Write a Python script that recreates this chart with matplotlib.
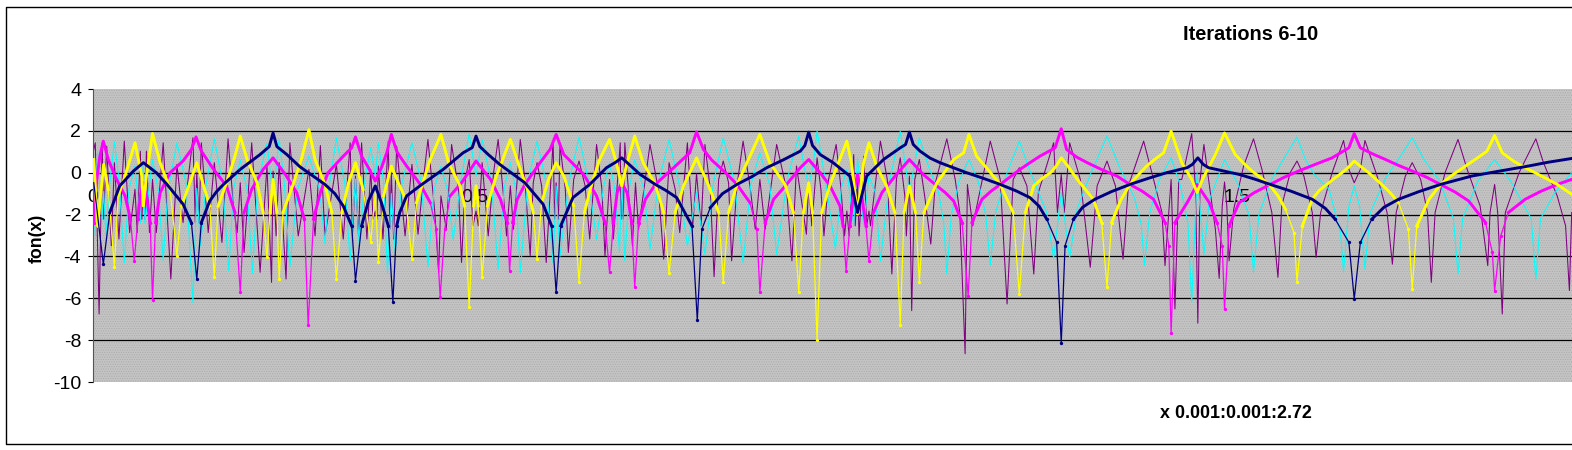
import numpy as np
import matplotlib
matplotlib.use("Agg")
import matplotlib.pyplot as plt
from matplotlib.lines import Line2D

title_text = "Iterations 6-10"
x_label_text = "x 0.001:0.001:2.72"
y_label_text = "fon(x)"
x_ticks = [0, 0.5, 1, 1.5]
x_tick_labels = ["0", "0.5", "1", "1.5"]
y_ticks = [-10, -8, -6, -4, -2, 0, 2, 4]

navy_points = [(.001,-.48),(.0135,-4.37),(.022,-1.9),(.035,-.63),(.053,.08),(.066,.48),(.083,0),(.097,-.56),(.118,-1.5),(.129,-2.4),(.136,-5.08),(.142,-2.38),(.153,-1.35),(.171,-.56),(.193,.16),(.219,.87),(.236,1.9),(.254,.87),(.271,.29),(.304,-.56),(.328,-1.59),(.339,-2.54),(.344,-5.16),(.352,-2.54),(.361,-1.35),(.370,-.63),(.378,-1.43),(.387,-2.54),(.393,-6.19),(.398,-2.54),
(.402,-1.9),(.411,-1.11),(.431,-.56),(.459,.16),(.485,.95),(.502,1.75),(.518,.87),(.533,.40),(.566,-.48),(.590,-1.51),(.601,-2.54),(.607,-5.71),(.613,-2.54),(.629,-1.19),(.651,-.56),(.673,.24),(.693,.71),(.717,-.08),(.737,-.56),(.765,-1.19),(.785,-2.54),(.792,-7.06),(.798,-2.7),(.809,-1.67),(.844,-.56),(.883,.24),(.927,1.03),
(.938,1.94),(.953,.87),(.970,.48),(.992,-.16),(1.002,-1.9),(1.014,-.16),(1.036,.63),(1.058,1.19),(1.070,1.94),(1.084,1.03),(1.110,.48),(1.145,0),(1.189,-.56),(1.228,-1.19),(1.250,-2.22),(1.263,-3.33),(1.269,-8.14),(1.274,-3.49),(1.285,-2.22),(1.313,-1.27),(1.359,-.56),(1.407,0),(1.434,.24),(1.448,.71),
(1.462,.24),(1.502,-.08),(1.543,-.56),(1.598,-1.27),(1.628,-2.22),(1.646,-3.33),(1.653,-6.03),(1.661,-3.33),(1.676,-2.22),(1.711,-1.27),(1.766,-.56),(1.807,-.16),(1.877,.29),(1.938,.68),
(.231,1.25),(.241,1.25),(.497,1.2),(.507,1.25),(.933,1.3),(.943,1.3),(1.065,1.35),(1.075,1.35),(.685,.5),(.701,.45),(1.441,.4),(1.455,.4),(1.167,-.27),(1.210,-.87),(1.240,-1.6),(1.297,-1.65),(1.335,-.9),(1.383,-.27),(1.522,-.3),(1.570,-.88),(1.615,-1.7),(1.692,-1.65),(1.738,-.9),(1.842,.07),(1.907,.5),(.905,.62),(.864,-.18),(1.097,.7),(.825,-1.0),(.751,-.85),(.288,-.15),(.317,-1.0),(.162,-.9)]

magenta_points = [(.001,-2.38),(.005,-.32),(.009,.79),(.0135,1.51),(.020,.63),(.031,-.32),(.042,-1.11),(.049,-2.2),(.054,-4.2),(.059,-2.2),(.062,-1.11),(.066,-.48),(.070,-1.11),(.075,-2.38),(.078,-6.1),(.082,-2.38),(.088,-.95),(.101,0),(.118,.56),(.129,1.11),(.135,1.71),(.142,1.03),(.158,.16),(.175,-.63),(.186,-1.9),(.193,-5.71),(.198,-1.9),(.208,-.79),(.223,.16),(.236,.71),(.252,-.08),(.267,-.95),(.277,-2.22),(.282,-7.3),(.289,-2.22),(.298,-.95),(.308,0),(.328,.79),(.339,1.19),(.344,1.71),(.352,.79),(.361,.24),(.370,-.40),(.378,.24),(.385,.95),(.391,1.83),(.398,1.03),
(.402,.79),(.411,.32),(.429,-.56),(.442,-1.43),(.450,-2.7),(.455,-5.95),(.461,-2.7),(.468,-1.11),(.483,-.48),(.502,.56),(.521,-.32),(.534,-1.27),(.543,-2.38),(.546,-4.68),(.550,-2.38),(.556,-1.27),(.566,-.56),(.586,.48),(.599,1.11),(.607,1.83),(.617,.87),(.643,-.08),(.660,-1.11),(.671,-2.38),(.677,-4.76),(.682,-2.38),(.687,-.95),(.693,-.48),(.700,-.95),(.706,-2.38),(.710,-5.48),(.715,-2.38),(.724,-1.27),(.737,-.56),(.761,.24),(.782,.95),(.791,1.95),(.800,1.11),(.822,.24),(.844,-.56),(.861,-1.43),(.870,-2.7),(.874,-5.71),(.881,-2.38),(.892,-1.27),(.909,-.56),(.927,.24),
(.938,.63),(.953,0),(.966,-.63),(.979,-1.59),(.983,-2.54),(.987,-4.68),(.992,-2.54),(.997,-.95),(1.002,-.08),(1.007,-.95),(1.013,-2.54),(1.017,-4.2),(1.023,-1.9),(1.034,-.95),(1.053,-.08),(1.070,.63),(1.088,-.08),(1.106,-.63),(1.128,-1.35),(1.139,-2.38),(1.147,-5.87),(1.152,-2.38),(1.165,-1.27),(1.189,-.56),(1.215,.16),(1.241,.79),(1.261,1.19),(1.269,2.1),(1.276,1.11),(1.303,.48),(1.342,-.16),(1.359,-.56),(1.390,-1.27),(1.405,-2.38),(1.410,-3.49),(1.413,-7.67),(1.418,-2.38),(1.434,-1.43),(1.447,-.56),
(1.463,-1.43),(1.473,-2.38),(1.480,-3.49),(1.483,-6.51),(1.489,-2.54),(1.502,-1.43),(1.543,-.56),(1.580,.08),(1.624,.71),(1.646,1.19),(1.653,1.87),(1.661,1.19),(1.694,.63),(1.729,.08),(1.766,-.56),(1.803,-1.35),(1.825,-2.38),(1.834,-3.81),(1.837,-5.63),(1.845,-3.02),(1.855,-1.9),(1.877,-1.27),(1.919,-.56),(1.938,-.32),
(1.202,-.2),(1.228,.48),(1.289,.75),(1.322,.15),(1.375,-.88),(1.522,-.95),(1.561,-.22),(1.602,.4),(1.677,.9),(1.711,.35),(1.748,-.22),(1.785,-.92),(1.898,-.88),(.811,.6),(.833,-.15),(1.117,-.95),(1.177,-.88)]

yellow_points = [(.001,.63),(.006,-2.54),(.014,.4),(.020,-.8),(.028,-4.5),(.033,-1.11),(.042,-.16),(.055,1.43),(.064,-.16),(.066,-1.59),(.070,-.16),(.078,1.87),(.088,.48),(.101,-.8),(.110,-3.97),(.116,-1.59),(.127,-.48),(.136,.48),(.145,-.63),(.153,-1.59),(.159,-5.0),(.164,-1.59),(.175,-.48),(.186,.79),(.193,1.75),(.202,.63),(.215,-.48),(.223,-1.9),(.228,-4.05),(.232,-1.9),(.236,-.32),(.241,-1.9),(.244,-5.08),(.249,-1.9),(.263,-.48),(.273,.63),(.283,2.06),(.291,.63),(.304,-.56),(.313,-1.9),(.319,-5.08),(.326,-1.9),(.335,-.48),(.344,.48),(.354,-.8),(.364,-3.3),(.370,-.95),(.374,-4.25),(.381,-1.1),(.391,.32),(.400,-.48),
(.410,-1.27),(.418,-4.1),(.424,-1.43),(.431,-.63),(.442,.63),(.456,1.83),(.466,.48),(.481,-.63),(.487,-1.59),(.493,-6.43),(.499,-1.59),(.502,-.63),(.505,-1.59),(.510,-5.0),(.517,-1.59),(.527,-.32),(.547,1.59),(.560,.16),(.571,-.95),(.577,-1.9),(.582,-4.1),(.588,-1.43),(.597,-.32),(.607,.48),(.617,-.16),(.630,-1.59),(.637,-5.2),(.644,-1.9),(.654,-.48),(.664,.63),(.677,1.59),(.686,.48),(.693,-.63),(.700,.48),(.710,1.75),(.721,.48),(.737,-.56),(.748,-1.9),(.755,-4.81),(.763,-1.9),(.774,-.63),(.791,.71),(.807,-.63),(.820,-1.9),(.826,-5.2),(.833,-1.9),(.844,-.56),(.857,.48),(.874,1.83),(.887,.48),(.907,-.56),(.918,-1.9),(.925,-5.71),
(.931,-1.9),(.938,-.48),(.943,-1.9),(.949,-8.0),(.955,-1.9),(.966,-.56),(.977,.48),(.988,1.51),(.994,.48),(1.002,-1.98),(1.010,.48),(1.017,1.43),(1.027,.32),(1.040,-.63),(1.051,-1.9),(1.058,-7.27),(1.063,-1.9),(1.070,-.63),(1.078,-1.9),(1.083,-5.2),(1.089,-1.9),(1.106,-.48),(1.128,.63),(1.141,.95),(1.148,1.83),(1.158,.79),(1.189,-.56),(1.206,-1.9),(1.214,-5.79),(1.222,-1.9),(1.233,-.63),(1.255,0),(1.269,.71),(1.290,-.32),(1.311,-1.27),(1.322,-2.38),(1.329,-5.48),(1.335,-2.38),(1.359,-.56),(1.381,.32),(1.403,.95),(1.413,1.98),
(1.427,.48),(1.440,-.32),(1.447,-.95),(1.454,-.32),(1.471,.87),(1.483,1.9),(1.497,.87),(1.519,.08),(1.543,-.63),(1.563,-1.75),(1.574,-2.86),(1.578,-5.2),(1.585,-2.54),(1.598,-1.27),(1.617,-.56),(1.637,0),(1.653,.56),(1.672,0),(1.689,-.56),(1.711,-1.43),(1.724,-2.7),(1.729,-5.56),(1.735,-2.54),(1.751,-1.27),(1.766,-.56),(1.799,.32),(1.827,1.03),(1.837,1.78),(1.847,.95),(1.877,.24),(1.919,-.56),(1.938,-1.03),
(1.173,.15),(1.244,-.27),(1.262,.3),(1.278,.3),(1.347,-1.3),(1.370,-.1),(1.392,.65),(1.508,.45),(1.531,-.25),(1.553,-1.1),(1.607,-.85),(1.627,-.27),(1.645,.25),(1.662,.28),(1.680,-.27),(1.700,-.95),(1.782,-.1),(1.813,.67),(1.862,.55),(1.898,-.15)]

cyan_points = [(.001,.2),(.003,-3.0),(.006,1.03),(.012,-2.2),(.014,-.9),(.017,-3),(.022,-.5),(.028,1.5),(.034,-.3),(.041,-4.3),(.047,-.8),(.055,.32),(.062,-2.4),(.066,.47),(.068,-2.4),(.078,.63),(.086,-.9),(.092,-4.2),(.098,-.9),(.110,1.43),(.122,-.5),(.131,-6.2),(.136,-.75),(.141,-3.5),(.148,-.6),(.159,1.62),(.170,-.5),(.178,-4.7),(.184,-.8),(.193,.6),(.202,-.8),(.209,-4.8),(.216,-.5),(.228,1.4),(.236,-1.1),(.244,1.6),(.251,-.6),(.258,-4.5),(.268,-.8),(.283,.8),(.297,-.8),(.304,-3.4),(.310,-.5),(.319,1.66),(.330,-.5),(.337,-4.2),(.344,-.3),(.349,-3.5),(.356,-.4),(.364,1.2),(.370,-.16),(.374,1.43),(.381,-.5),(.386,-4.8),(.391,-1),(.396,-3.8),(.405,-.5),(.418,1.43),(.430,-.4),(.439,-4.5),(.447,-.8),(.456,.32),(.465,-.9),(.472,-3.2),(.482,-.4),(.493,1.87),(.502,-.16),(.510,1.59),(.522,-.4),(.531,-4.6),(.539,-.7),(.547,.48),(.554,-.8),(.560,-4.76),(.570,-.4),(.582,1.51),(.594,-.5),(.603,-4.3),(.607,-.63),(.612,-4),(.624,-.4),(.637,1.71),(.650,-.5),(.660,-3.2),(.669,-.7),(.677,.48),(.684,-.8),(.690,-3.8),(.693,-.48),(.697,-4.2),(.703,-.7),(.710,.63),(.722,-.8),(.730,-3.65),(.741,-.5),(.755,1.59),(.768,-.5),(.779,-3.5),(.791,-.95),(.802,-3.9),(.813,-.5),(.826,1.67),(.841,-.5),(.852,-4.3),(.862,-.6),(.874,.95),(.887,-.6),(.896,-3.9),(.910,-.3),(.925,1.75),(.932,.3),(.938,-.63),(.944,.4),
(.949,2.0),(.960,-.4),(.973,-3.65),(.981,-.7),(.988,.16),(.997,-2.5),(1.002,.71),(1.010,-2.5),(1.017,-.16),(1.025,-.9),(1.032,-4.2),(1.044,-.4),(1.058,1.98),(1.070,-.95),(1.083,1.67),(1.095,.3),(1.108,-.9),(1.115,-2.4),(1.119,-4.84),(1.125,-2.0),(1.135,-.4),(1.148,.63),(1.160,-.4),(1.170,-2.0),(1.176,-4.4),(1.183,-1.9),(1.197,-.1),(1.214,1.51),(1.230,-.1),(1.250,-1.9),(1.259,-4.1),(1.269,-.95),(1.280,-4.05),(1.290,-1.7),(1.308,.0),(1.329,1.75),(1.345,.3),(1.365,-1.2),(1.374,-2.5),(1.378,-4.44),(1.385,-1.9),(1.398,-.3),(1.413,.71),(1.425,-.6),(1.435,-2.4),(1.440,-6.2),(1.447,0),(1.456,-3.9),(1.463,-1.3),(1.483,.63),(1.500,-.5),(1.515,-2.0),(1.521,-4.76),(1.528,-2.0),(1.545,-.3),(1.560,.63),(1.578,1.71),(1.589,.63),(1.602,-.16),(1.620,-.79),(1.628,-1.9),(1.635,-2.86),(1.639,-4.75),(1.646,-1.6),(1.653,-.63),(1.660,-1.6),(1.667,-4.6),(1.674,-1.9),(1.695,-.2),(1.712,.7),(1.729,1.67),(1.745,.6),(1.765,-.4),(1.783,-2.2),(1.789,-4.84),(1.795,-2.2),(1.815,-.4),(1.837,.63),(1.858,-.4),(1.885,-2.2),(1.891,-5.1),(1.897,-2.2),(1.916,-.95),(1.938,0)]

purple_points = [(.001,1.11),(.003,1.43),(.005,-1.9),(.008,-6.75),(.012,1.43),(.014,-2.22),(.016,-.32),(.018,1.27),(.024,-3.49),(.028,.48),(.034,-3.17),(.041,1.51),(.048,-2.86),(.055,-.79),(.058,-2.86),(.062,1.03),(.064,-2.22),(.066,-.63),(.068,-2.22),(.070,1.03),(.074,-2.86),(.078,-.32),(.083,-2.86),(.092,1.43),(.102,-5.08),(.110,.40),(.118,-2.38),(.131,1.67),(.134,-2.38),(.136,0),(.139,-2.38),(.142,1.43),(.151,-2.86),(.159,.48),(.169,-3.33),(.177,1.62),(.184,-1.59),(.189,-2.86),(.193,-.48),(.198,-3.81),(.208,1.43),(.219,-4.76),(.228,.32),(.234,-5.24),(.236,.08),(.240,-3.02),(.244,.48),(.253,-5.08),(.258,1.43),(.269,-3.02),(.283,.16),(.291,-3.02),(.298,1.30),(.304,-3.02),(.319,.40),(.328,-3.17),(.337,1.43),(.340,-3.02),(.344,-.16),(.348,-3.02),(.352,1.43),(.359,-3.17),(.364,.16),(.367,-2.22),(.370,-1.83),(.372,-2.22),(.374,.32),(.380,-3.17),(.387,1.51),(.389,-2.7),(.391,0),(.394,-3.17),(.398,1.27),
(.409,-3.02),(.418,.40),(.426,-2.94),(.433,-.32),(.439,1.59),(.448,-1.9),(.453,-4.76),(.456,-1.11),(.463,-2.7),(.470,1.35),(.479,-.79),(.483,-4.29),(.488,-.32),(.493,.63),(.498,-2.54),(.502,-1.83),(.505,-2.54),(.510,.48),(.518,-3.02),(.525,0),(.531,1.59),(.538,-1.11),(.542,-3.02),(.547,-.63),(.551,-2.7),(.560,1.59),(.566,-.32),(.573,-3.97),(.577,-.48),(.582,.48),(.588,-.63),(.594,-4.29),(.603,1.51),(.605,-2.22),(.607,-.48),(.610,-2.22),(.612,1.35),(.619,-.79),(.623,-3.81),(.630,-.32),(.637,.56),(.645,-.63),(.651,-3.17),(.660,1.35),(.667,-.79),(.671,-3.97),(.677,-.32),(.682,-3.17),(.691,1.43),(.692,-2.22),(.693,-.73),(.695,-2.22),(.697,1.43),(.704,-1.9),(.707,-3.49),(.711,-.48),(.715,-2.7),(.730,1.35),(.741,-.79),(.748,-4.13),(.755,.48),(.763,-.79),(.769,-2.86),(.779,1.43),(.786,-2.54),(.791,-.05),(.797,-2.54),(.802,1.35),(.809,-.79),(.814,-4.97),(.820,-.32),(.826,.56),(.833,-.48),(.837,-4.21),(.844,-.63),(.852,1.51),(.861,-.63),(.868,-2.7),(.874,-.32),(.881,-2.7),(.896,1.35),(.909,-.79),(.916,-4.21),(.922,.32),
(.935,-2.94),(.938,-.48),(.942,-2.54),(.949,.71),(.954,-.79),(.958,-3.02),(.964,-.32),(.974,1.35),(.980,-.63),(.985,-3.02),(.988,-1.83),(.991,-3.02),(.997,.87),(.999,-2.54),(1.002,-.32),(1.004,-3.02),(1.010,.79),(1.014,-2.54),(1.017,-1.83),(1.019,-2.54),(1.032,1.51),(1.041,-.32),(1.047,-4.84),(1.053,-.32),(1.058,.71),(1.064,-1.11),(1.066,-3.02),(1.070,-.16),(1.073,-6.59),(1.077,-.32),(1.083,.63),(1.090,-1.11),(1.098,-3.41),(1.104,-.48),(1.119,1.62),(1.130,-.32),(1.136,-1.9),(1.143,-8.65),(1.146,-.56),(1.153,-2.54),(1.176,1.51),(1.189,-.32),(1.198,-6.27),(1.206,-.32),(1.214,.24),(1.224,-.63),(1.233,-4.84),(1.239,-.95),(1.259,1.43),(1.264,-1.9),(1.269,-.08),(1.273,-1.9),(1.280,1.43),(1.294,-.32),(1.307,-4.52),(1.316,-.63),(1.329,.56),(1.340,-.63),(1.350,-4.13),(1.357,-.63),(1.377,1.51),(1.390,-.32),(1.401,-1.9),(1.405,-4.44),(1.413,-.32),(1.418,-6.51),(1.423,-.32),
(1.427,-.32),(1.440,1.87),(1.445,-.79),(1.448,-7.19),(1.451,-.32),(1.456,1.35),(1.465,-1.11),(1.471,-2.7),(1.476,-5.05),(1.480,-1.59),(1.483,-.44),(1.486,-1.59),(1.489,-4.21),(1.495,-1.75),(1.508,.32),(1.521,1.62),(1.532,.16),(1.545,-1.9),(1.553,-5.0),(1.558,-1.59),(1.569,0),(1.578,.56),(1.587,-.16),(1.598,-1.9),(1.603,-4.05),(1.609,-1.9),(1.624,0),(1.639,1.54),(1.646,.16),(1.653,-.48),(1.661,.16),(1.667,1.54),(1.683,-.16),(1.696,-1.9),(1.703,-4.37),(1.708,-1.9),(1.720,-.16),(1.729,.48),(1.740,-.32),(1.749,-1.9),(1.754,-5.24),(1.759,-1.9),(1.772,0),(1.789,1.59),(1.801,.16),(1.818,-1.59),(1.828,-4.44),(1.831,-1.9),(1.837,-.56),(1.841,-1.9),(1.847,-6.75),(1.851,-1.9),(1.869,0),(1.891,1.62),(1.901,.48),(1.919,-1.11),(1.930,-2.54),(1.935,-5.63),(1.938,-1.9)]

plt.rcParams['font.family'] = ['Liberation Sans', 'DejaVu Sans']
plt.rcParams['hatch.linewidth'] = 0.5

fig = plt.figure(figsize=(15.72, 4.5), dpi=100, facecolor='white')
W, H = 1572.0, 450.0
ax = fig.add_axes([93/W, 1-382/H, (W-93)/W, (382-89)/H])
ax.set_facecolor('#c4c4c4')
ax.patch.set_hatch('.......')
ax.patch.set_edgecolor('#aaaaaa')
ax.set_xlim(0, (W-93)/763)
ax.set_ylim(-10, 4)

for g in y_ticks[1:-1]:
    ax.axhline(g, color='black', lw=0.9, zorder=1)

def draw(points, color, thick, z):
    pts = np.array(sorted(points))
    x, y = pts[:, 0], pts[:, 1]
    if thick:
        ax.plot(x, y, color=color, lw=0.9, zorder=z)
        low = y < -2.0
        ax.plot(x[low], y[low], ls='none', color=color, marker='o', ms=2.4, mew=0, zorder=z)
        ax.plot(x, np.where(y > -2.6, y, np.nan), color=color, lw=2.1, zorder=z,
                solid_joinstyle='round')
    else:
        ax.plot(x, y, color=color, lw=0.75, zorder=z)

draw(purple_points, '#800080', False, 2)
draw(cyan_points, '#00FFFF', False, 3)
draw(magenta_points, '#FF00FF', True, 4)
draw(yellow_points, '#FFFF00', True, 5)
draw(navy_points, '#000080', True, 6)

for s in ('top', 'right'):
    ax.spines[s].set_visible(False)
ax.spines['bottom'].set_position(('data', 0))
ax.spines['bottom'].set_color('black')
ax.spines['bottom'].set_zorder(1)
ax.spines['left'].set_color('#555555')
ax.spines['left'].set_linewidth(0.8)

ax.set_yticks(y_ticks)
ax.set_yticklabels([str(v) for v in y_ticks], fontsize=14)
ax.tick_params(axis='y', length=3.6, width=0.8, pad=5, colors='black')
ax.set_xticks(x_ticks)
ax.set_xticklabels(x_tick_labels, fontsize=14)
ax.tick_params(axis='x', length=0, pad=11.5)
for t in ax.get_xticklabels():
    t.set_zorder(7)

fig.text(1251/W, 1-34/H, title_text, fontsize=14.4, fontweight='bold', ha='center', va='center')
fig.text(1236/W, 1-413/H, x_label_text, fontsize=12.9, fontweight='bold', ha='center', va='center')
fig.text(37/W, 1-238/H, y_label_text, fontsize=12.8, fontweight='bold', rotation=90, ha='center', va='center')

frame_x = [1.0, 6.5/W, 6.5/W, 1.0]
frame_y = [1-6.5/H, 1-6.5/H, 1-443.5/H, 1-443.5/H]
fig.add_artist(Line2D(frame_x, frame_y, transform=fig.transFigure, color='black', lw=1.0))

fig.savefig('out.png', dpi=100, facecolor='white')
